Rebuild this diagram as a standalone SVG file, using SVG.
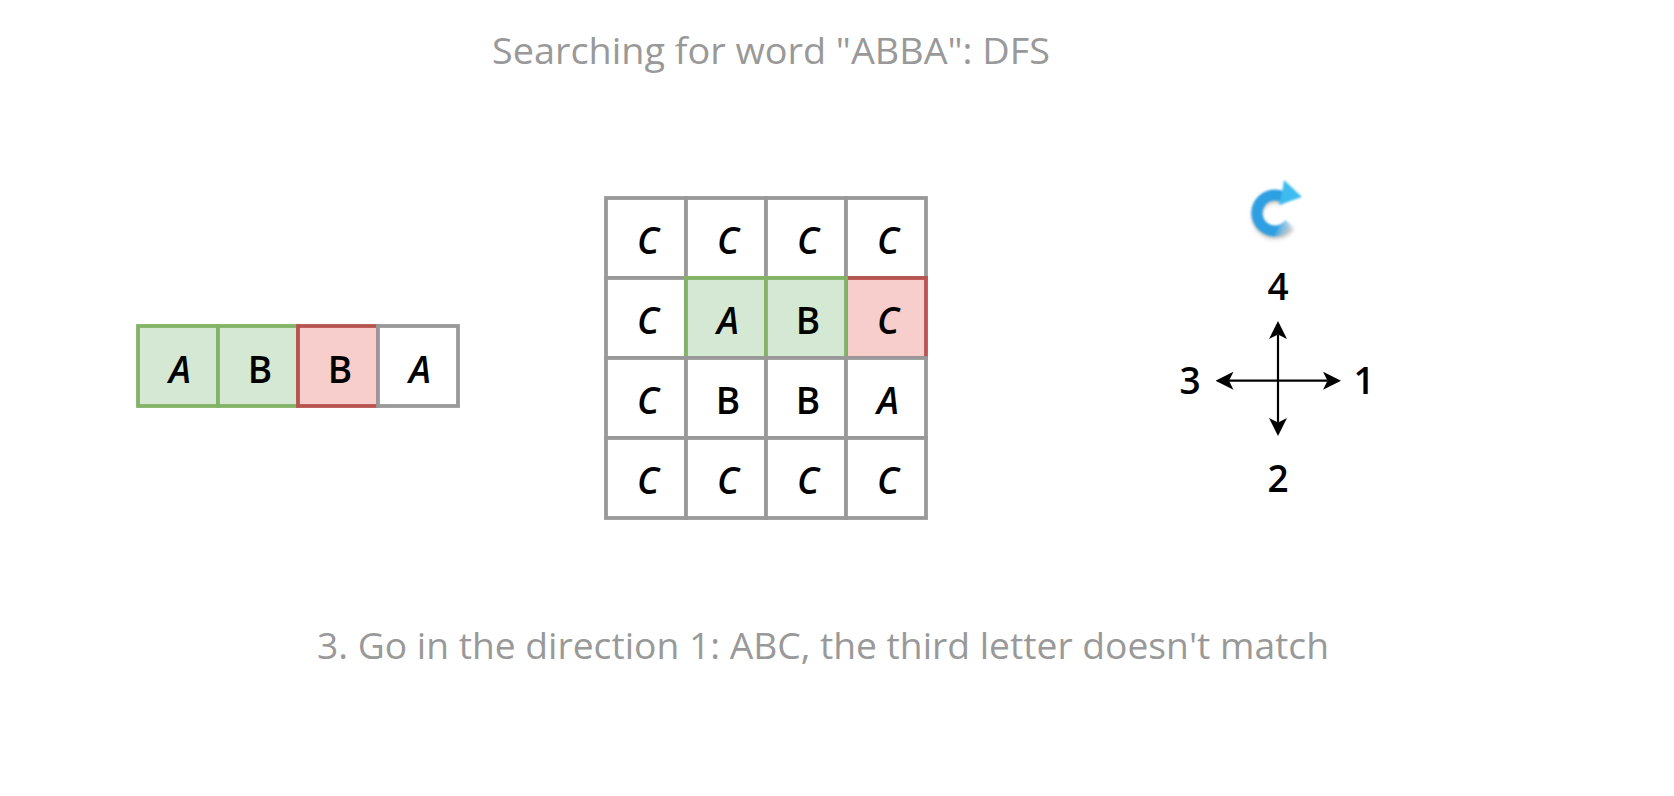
<svg xmlns="http://www.w3.org/2000/svg" width="1674" height="796" viewBox="0 0 1674 796">
<style>
text{font-family:"Open Sans","Noto Sans",sans-serif}
.l{font-size:37px;fill:#000;text-anchor:middle;font-weight:600}
.i{font-style:italic}
.t{font-size:37px;fill:#999;font-weight:400}
rect{stroke-width:3.8}
.w{fill:#fff;stroke:#999}
.g{fill:#d5e8d4;stroke:#82b366}
.r{fill:#f8cecc;stroke:#b85450}
.a{stroke:#000;stroke-width:2.2;fill:none;marker-start:url(#h);marker-end:url(#h)}
</style>
<defs>
<marker id="h" viewBox="0 0 18 18" refX="4.5" refY="9" markerWidth="18" markerHeight="18" markerUnits="userSpaceOnUse" orient="auto-start-reverse"><path d="M0,0L18,9L0,18L4.5,9z" fill="#000"/></marker>
<linearGradient id="ring" gradientUnits="userSpaceOnUse" x1="1264" y1="208" x2="1295" y2="224"><stop offset="0" stop-color="#2d9fe2"/><stop offset=".6" stop-color="#2f9fe0"/><stop offset="1" stop-color="#8fd0f0" stop-opacity="0"/></linearGradient>
<filter id="b1" x="-20%" y="-20%" width="140%" height="140%"><feGaussianBlur stdDeviation=".9"/></filter>
<filter id="b2" x="-30%" y="-30%" width="160%" height="160%"><feGaussianBlur stdDeviation="2"/></filter>
</defs>
<text id="title" class="t" x="492" y="64" textLength="558" lengthAdjust="spacingAndGlyphs">Searching for word "ABBA": DFS</text>
<g id="word">
<g id="w1"><rect class="g" x="138" y="326" width="80" height="80"/><text class="l i" x="180" y="383">A</text></g>
<g id="w2"><rect class="g" x="218" y="326" width="80" height="80"/><text class="l" x="260" y="383">B</text></g>
<g id="w3"><rect class="r" x="298" y="326" width="80" height="80"/><text class="l" x="340" y="383">B</text></g>
<g id="w4"><rect class="w" x="378" y="326" width="80" height="80"/><text class="l i" x="420" y="383">A</text></g>
</g>
<g id="grid">
<g id="c00"><rect class="w" x="606" y="198" width="80" height="80"/><text class="l i" x="648" y="254">C</text></g>
<g id="c01"><rect class="w" x="686" y="198" width="80" height="80"/><text class="l i" x="728" y="254">C</text></g>
<g id="c02"><rect class="w" x="766" y="198" width="80" height="80"/><text class="l i" x="808" y="254">C</text></g>
<g id="c03"><rect class="w" x="846" y="198" width="80" height="80"/><text class="l i" x="888" y="254">C</text></g>
<g id="c10"><rect class="w" x="606" y="278" width="80" height="80"/><text class="l i" x="648" y="334">C</text></g>
<g id="c13"><rect class="r" x="846" y="278" width="80" height="80"/><text class="l i" x="888" y="334">C</text></g>
<g id="c11"><rect class="g" x="686" y="278" width="80" height="80"/><text class="l i" x="728" y="334">A</text></g>
<g id="c12"><rect class="g" x="766" y="278" width="80" height="80"/><text class="l" x="808" y="334">B</text></g>
<g id="c20"><rect class="w" x="606" y="358" width="80" height="80"/><text class="l i" x="648" y="414">C</text></g>
<g id="c21"><rect class="w" x="686" y="358" width="80" height="80"/><text class="l" x="728" y="414">B</text></g>
<g id="c22"><rect class="w" x="766" y="358" width="80" height="80"/><text class="l" x="808" y="414">B</text></g>
<g id="c23"><rect class="w" x="846" y="358" width="80" height="80"/><text class="l i" x="888" y="414">A</text></g>
<g id="c30"><rect class="w" x="606" y="438" width="80" height="80"/><text class="l i" x="648" y="494">C</text></g>
<g id="c31"><rect class="w" x="686" y="438" width="80" height="80"/><text class="l i" x="728" y="494">C</text></g>
<g id="c32"><rect class="w" x="766" y="438" width="80" height="80"/><text class="l i" x="808" y="494">C</text></g>
<g id="c33"><rect class="w" x="846" y="438" width="80" height="80"/><text class="l i" x="888" y="494">C</text></g>
</g>
<g id="icon">
<path d="M1284,197.4A18,18 0 1 0 1289.7,223.3" fill="none" stroke="#8a8a8a" stroke-opacity=".5" stroke-width="10" filter="url(#b2)" transform="translate(0,3)"/>
<g filter="url(#b1)">
<path d="M1284,197.4A18,18 0 1 0 1289.7,223.3" fill="none" stroke="url(#ring)" stroke-width="11"/>
<path d="M1284,180L1302,197L1279,205L1282,193z" fill="#3cbcf0"/>
</g>
</g>
<g id="connectors">
<line class="a" x1="1229" y1="380.7" x2="1327.5" y2="380.7"/>
<line class="a" x1="1278" y1="334.5" x2="1278" y2="422.5"/>
</g>
<g id="n4"><text class="l" x="1278" y="300">4</text></g>
<g id="n3"><text class="l" x="1190" y="394">3</text></g>
<g id="n1"><text class="l" x="1364" y="394">1</text></g>
<g id="n2"><text class="l" x="1278" y="492">2</text></g>
<text id="caption" class="t" x="317" y="659" textLength="1012" lengthAdjust="spacingAndGlyphs">3. Go in the direction 1: ABC, the third letter doesn't match</text>
</svg>
